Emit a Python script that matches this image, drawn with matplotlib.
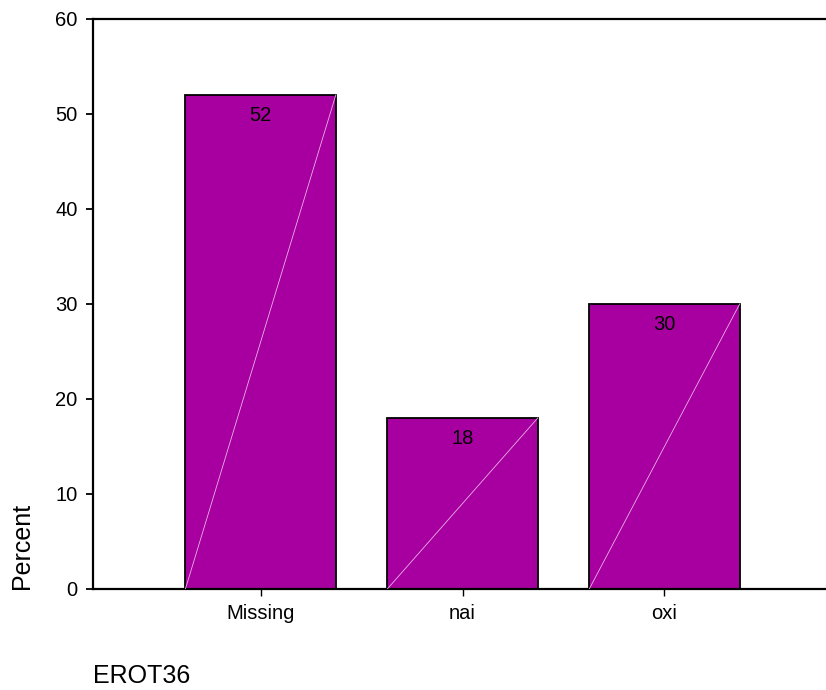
import matplotlib
matplotlib.use("Agg")
import matplotlib.pyplot as plt
import numpy as np

plt.rcParams['font.family'] = ['Liberation Sans', 'DejaVu Sans']

# data
categories = ['Missing', 'nai', 'oxi']
percents = [52, 18, 30]

bar_color = '#a800a0'
bar_width = 0.745

fig = plt.figure(figsize=(8.26, 6.9), dpi=100)
ax = fig.add_axes([0.1126, 0.1464, 0.8874, 0.8261])

x = np.arange(len(categories))
bars = ax.bar(x, percents, width=bar_width, color=bar_color,
              edgecolor='black', linewidth=1.3, zorder=2)

# thin white diagonal across each bar (SPSS style)
for b in bars:
    x0 = b.get_x()
    x1 = x0 + b.get_width()
    ax.plot([x0, x1], [0, b.get_height()], color='#e8b0e4', linewidth=0.6, zorder=3)
    ax.text(b.get_x() + b.get_width() / 2, b.get_height() - 2.2, str(int(b.get_height())),
            ha='center', va='center', fontsize=14.5, color='black', zorder=4)

ax.set_xlim(-0.83, 2.80)
ax.set_ylim(0, 60)
ax.set_yticks(range(0, 61, 10))
ax.set_xticks(x)
ax.set_xticklabels(categories, fontsize=14.5)
ax.tick_params(axis='y', labelsize=14.5, length=5, width=1.3, direction='out', pad=6)
ax.tick_params(axis='x', length=5, width=1.0, direction='out', pad=6)

ax.spines['right'].set_visible(False)
for s in ['left', 'top', 'bottom']:
    ax.spines[s].set_linewidth(1.6)

ax.set_ylabel('Percent', fontsize=18)
ax.yaxis.set_label_coords(-0.097, 0.0, transform=ax.transAxes)
ax.yaxis.label.set_va('center')
ax.yaxis.label.set_ha('left')

fig.text(93 / 826, 1 - 676 / 690, 'EROT36', fontsize=18, ha='left', va='center')

fig.savefig('out.png', dpi=100)
